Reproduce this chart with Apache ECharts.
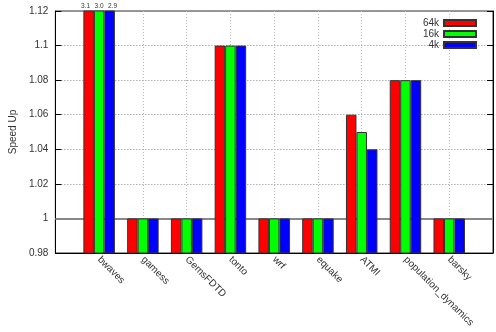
<!DOCTYPE html>
<html>
<head>
<meta charset="utf-8">
<script src="https://cdn.jsdelivr.net/npm/echarts@6/dist/echarts.min.js"></script>
<style>
  html, body { margin: 0; padding: 0; background: #fff; }
  #chart { width: 496px; height: 332px; }
</style>
</head>
<body>
<div id="chart"></div>
<script>
// benchmarks on the x axis
const benchmarks = ['bwaves', 'gamess', 'GemsFDTD', 'tonto', 'wrf', 'equake', 'ATMI', 'population_dynamics', 'barsky'];
const seriesNames = ['64k', '16k', '4k'];
const speedup64k = [3.1, 1, 1, 1.1, 1, 1, 1.06, 1.08, 1];
const speedup16k = [3.0, 1, 1, 1.1, 1, 1, 1.05, 1.08, 1];
const speedup4k = [2.9, 1, 1, 1.1, 1, 1, 1.04, 1.08, 1];
const yTicks = [0.98, 1.0, 1.02, 1.04, 1.06, 1.08, 1.1, 1.12];

const yMin = yTicks[0];
const yMax = yTicks[yTicks.length - 1];
const colors = ['#ff0000', '#00ff00', '#0000ff'];
const font = 'Liberation Sans, Arial, sans-serif';

// empty slots on both ends so the categories sit one band in from the frame
const cats = [''].concat(benchmarks, ['']);
const pad = arr => ['-'].concat(arr, ['-']);

const myChart = echarts.init(document.getElementById('chart'));

const makeBar = (name, data, i) => ({
  name: name,
  type: 'bar',
  data: pad(data),
  barWidth: 10.5,
  barGap: '0%',
  itemStyle: { color: colors[i], borderColor: '#333', borderWidth: 1 },
  label: {
    show: true,
    position: 'top',
    distance: 1,
    offset: [(i - 1) * 3, 0],
    fontSize: 6.5,
    fontFamily: font,
    color: '#333',
    formatter: p => (p.value > yMax ? p.value.toFixed(1) : '')
  },
  z: 3
});

const option = {
  animation: false,
  backgroundColor: '#fff',
  textStyle: { fontFamily: font },
  grid: {
    left: 54, right: 3, top: 11, bottom: 79,
    show: true, borderColor: '#333', borderWidth: 1
  },
  legend: {
    orient: 'vertical',
    right: 14,
    top: 13,
    align: 'right',
    itemWidth: 32,
    itemHeight: 6,
    itemGap: 1,
    icon: 'rect',
    data: seriesNames,
    textStyle: { fontSize: 10, color: '#333', fontFamily: font }
  },
  xAxis: {
    type: 'category',
    data: cats,
    boundaryGap: false,
    axisLine: { lineStyle: { color: '#000' } },
    axisTick: { show: false },
    axisLabel: {
      rotate: -45,
      margin: 5,
      fontSize: 10,
      color: '#333',
      fontFamily: font,
      interval: 0
    },
    splitLine: { show: true, lineStyle: { color: '#bbb', type: [1, 2] } }
  },
  yAxis: [
    {
      type: 'value',
      min: yMin, max: yMax, interval: 0.02,
      name: 'Speed Up',
      nameLocation: 'middle',
      nameGap: 34,
      nameTextStyle: { fontSize: 10, color: '#333', fontFamily: font },
      axisLine: { show: true, lineStyle: { color: '#000' } },
      axisTick: { show: true, inside: true, length: 6, lineStyle: { color: '#000' } },
      axisLabel: {
        fontSize: 10, color: '#333', fontFamily: font, margin: 7,
        formatter: v => String(+v.toFixed(2))
      },
      splitLine: { show: true, lineStyle: { color: '#888', type: [1, 2] } }
    },
    {
      type: 'value',
      position: 'right',
      min: yMin, max: yMax, interval: 0.02,
      axisLine: { show: true, lineStyle: { color: '#000' } },
      axisTick: { show: true, inside: true, length: 6, lineStyle: { color: '#000' } },
      axisLabel: { show: false },
      splitLine: { show: false }
    }
  ],
  series: [
    makeBar(seriesNames[0], speedup64k, 0),
    makeBar(seriesNames[1], speedup16k, 1),
    makeBar(seriesNames[2], speedup4k, 2),
    {
      name: 'baseline',
      type: 'line',
      data: [],
      z: 1,
      markLine: {
        silent: true,
        symbol: 'none',
        label: { show: false },
        lineStyle: { color: '#888', width: 2, type: 'solid' },
        data: [{ yAxis: 1 }],
        z: 1
      }
    }
  ]
};

option && myChart.setOption(option);
</script>
</body>
</html>
